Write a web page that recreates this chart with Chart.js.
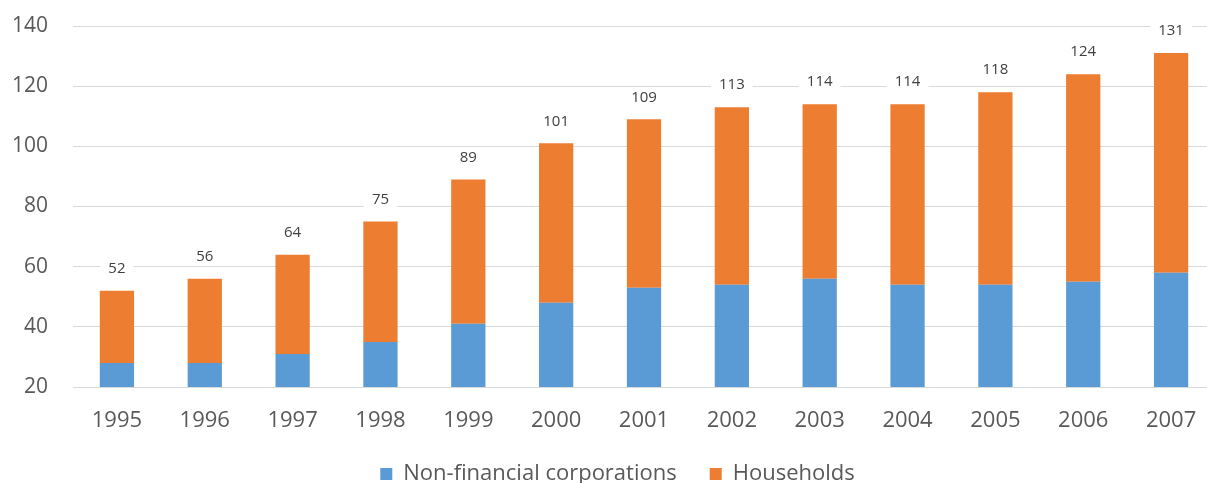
<!DOCTYPE html>
<html>
<head>
<meta charset="utf-8">
<title>Debt chart</title>
<script src="https://cdn.jsdelivr.net/npm/chart.js@4.4.1/dist/chart.umd.min.js"></script>
<style>
  html, body { margin: 0; padding: 0; background: #fff; overflow: hidden; }
  #wrap { position: absolute; left: 0; top: 0; width: 1227px; height: 495px; }
</style>
</head>
<body>
<div id="wrap"><canvas id="myChart"></canvas></div>
<script>
// data
const years = ['1995', '1996', '1997', '1998', '1999', '2000', '2001', '2002', '2003', '2004', '2005', '2006', '2007'];
const corporations = [28, 28, 31, 35, 41, 48, 53, 54, 56, 54, 54, 55, 58];
const households = [24, 28, 33, 40, 48, 53, 56, 59, 58, 60, 64, 69, 73];
const yTicks = [20, 40, 60, 80, 100, 120, 140];

const totals = years.map((y, i) => corporations[i] + households[i]);

// total label above each stacked bar, white box behind so grid line is cut
const totalLabels = {
    id: 'totalLabels',
    afterDatasetsDraw(chart) {
        const ctx = chart.ctx;
        const yScale = chart.scales.y;
        const meta = chart.getDatasetMeta(chart.data.datasets.length - 1);
        ctx.save();
        ctx.font = '15px "Open Sans"';
        ctx.textAlign = 'center';
        ctx.textBaseline = 'middle';
        totals.forEach((t, i) => {
            const x = meta.data[i].x;
            const y = yScale.getPixelForValue(t) - 22;
            const w = ctx.measureText(String(t)).width + 16;
            ctx.fillStyle = '#ffffff';
            ctx.fillRect(x - w / 2, y - 9, w, 18);
            ctx.fillStyle = '#404040';
            ctx.fillText(String(t), x, y);
        });
        ctx.restore();
    }
};

const ctx = document.getElementById('myChart').getContext('2d');
const myChart = new Chart(ctx, {
    type: 'bar',
    data: {
        labels: years,
        datasets: [{
            label: 'Non-financial corporations',
            data: corporations,
            backgroundColor: '#5B9BD5',
            barPercentage: 0.39,
            categoryPercentage: 1
        }, {
            label: 'Households',
            data: households,
            backgroundColor: '#ED7D31',
            barPercentage: 0.39,
            categoryPercentage: 1
        }]
    },
    options: {
        responsive: true,
        maintainAspectRatio: false,
        animation: false,
        layout: { padding: { left: 8, top: 26, right: 0, bottom: 0 } },
        scales: {
            x: {
                stacked: true,
                afterFit(axis) {
                    axis.height = 43;
                },
                grid: { display: false, drawTicks: false },
                border: { display: false },
                ticks: { color: '#595959', font: { family: 'Open Sans', size: 22 }, padding: 21 }
            },
            y: {
                stacked: true,
                min: 20,
                max: 140,
                afterBuildTicks(axis) {
                    axis.ticks = yTicks.map(v => ({ value: v }));
                },
                afterFit(axis) {
                    axis.width = 65;
                    axis.paddingTop = 0;
                    axis.paddingBottom = 0;
                },
                grid: { color: '#D9D9D9', drawTicks: false },
                border: { display: false },
                ticks: { color: '#595959', font: { family: 'Open Sans', size: 21 }, padding: 25 }
            },
            // empty spacer on the right so the legend sits where it does in the picture
            spacer: {
                position: 'right',
                grid: { display: false, drawTicks: false },
                border: { display: false },
                ticks: { display: false },
                afterFit(axis) {
                    axis.width = 12;
                }
            }
        },
        plugins: {
            legend: {
                position: 'bottom',
                labels: {
                    boxWidth: 12,
                    boxHeight: 12,
                    padding: 33,
                    color: '#595959',
                    font: { family: 'Open Sans', size: 22 }
                }
            },
            tooltip: { enabled: false }
        }
    },
    plugins: [totalLabels]
});
</script>
</body>
</html>
